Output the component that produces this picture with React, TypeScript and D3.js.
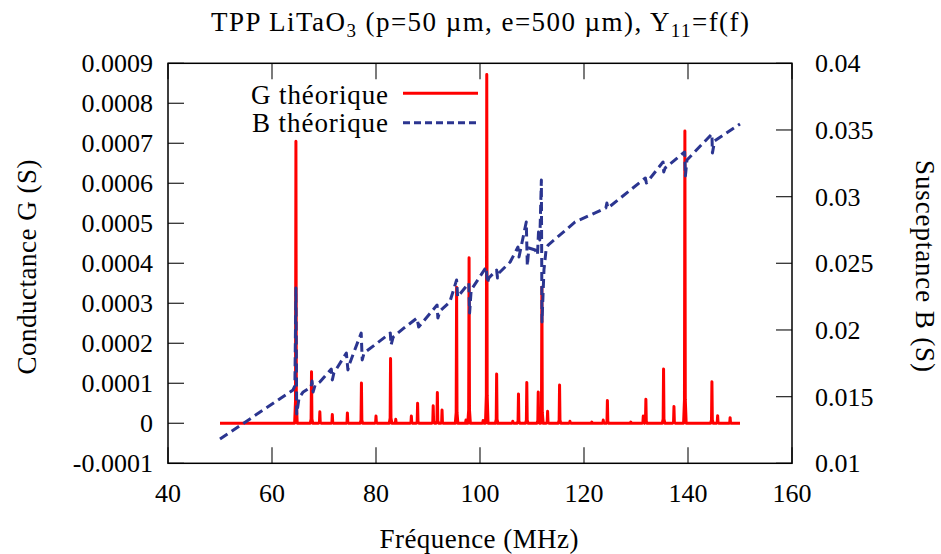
import React from "react";
import * as d3 from "d3";

// ---- data ----
const xTicks = [40, 60, 80, 100, 120, 140, 160];
const gTicks = [-0.0001, 0, 0.0001, 0.0002, 0.0003, 0.0004, 0.0005, 0.0006, 0.0007, 0.0008, 0.0009];
const gTickLabels = ["-0.0001", "0", "0.0001", "0.0002", "0.0003", "0.0004", "0.0005", "0.0006", "0.0007", "0.0008", "0.0009"];
const bTicks = [0.01, 0.015, 0.02, 0.025, 0.03, 0.035, 0.04];
const bTickLabels = ["0.01", "0.015", "0.02", "0.025", "0.03", "0.035", "0.04"];

// Conductance G: resonance peaks (MHz, S) on a zero baseline from 50 to 150 MHz
const gRange = [50, 150];
const gPeakFreq = [64.6, 67.6, 69.2, 71.6, 74.5, 77.2, 80.0, 82.8, 83.8, 86.8, 88.0, 91.0, 91.8, 92.7, 95.5, 97.3, 97.9, 100.6, 101.3, 103.2, 106.3, 107.4, 109.0, 111.2, 111.9, 113.0, 115.3, 117.3, 121.5, 123.7, 124.5, 129.0, 131.4, 131.9, 135.3, 137.3, 139.4, 144.6, 145.7, 148.1];
const gPeakValue = [0.000705, 0.000129, 0.000029, 0.000022, 0.000026, 0.000101, 0.000018, 0.000162, 0.00001, 0.000018, 0.00005, 0.000044, 0.000077, 0.000033, 0.00034, 0.000008, 0.000414, 0.000007, 0.000872, 0.000123, 0.000005, 0.000073, 0.000102, 0.000078, 0.00034, 0.00003, 0.000096, 0.000005, 0.000003, 0.000008, 0.000057, 0.000003, 0.000018, 0.00006, 0.000136, 0.000042, 0.000731, 0.000104, 0.000019, 0.000014];

// Susceptance B (MHz, S)
const bFreq = [50, 64.04, 64.4, 64.6, 64.75, 65.2, 66.0, 67.5, 67.7, 67.9, 68.3, 69.2, 71.4, 71.6, 71.9, 74.3, 74.6, 74.9, 77.15, 77.35, 77.7, 80.0, 82.75, 82.9, 83.3, 85.4, 87.9, 88.2, 91.75, 91.9, 92.3, 94.2, 95.5, 95.7, 96.0, 97.85, 98.0, 98.3, 101.2, 101.4, 101.7, 103.2, 103.37, 103.65, 105.8, 107.3, 107.5, 108.9, 109.1, 109.4, 110.6, 111.06, 111.25, 111.5, 111.8, 111.92, 112.3, 112.7, 113.1, 118.3, 124.2, 124.4, 124.6, 131.8, 132.0, 135.2, 135.33, 135.6, 139.35, 139.5, 139.8, 144.6, 144.7, 145.1, 150];
const bValue = [0.01182, 0.0155, 0.0158, 0.02315, 0.0137, 0.0149, 0.01535, 0.01572, 0.01617, 0.01535, 0.01587, 0.0161, 0.01707, 0.01625, 0.01677, 0.01827, 0.017, 0.01745, 0.01977, 0.01775, 0.01827, 0.01895, 0.01977, 0.01887, 0.01947, 0.02015, 0.0209, 0.02022, 0.02187, 0.0209, 0.02142, 0.0221, 0.02375, 0.02247, 0.02262, 0.02352, 0.02127, 0.023, 0.02472, 0.02352, 0.0239, 0.0245, 0.0239, 0.02427, 0.0251, 0.02622, 0.02547, 0.0281, 0.0248, 0.02615, 0.026, 0.02562, 0.02735, 0.02675, 0.03125, 0.0206, 0.0245, 0.026, 0.02637, 0.0281, 0.02915, 0.02952, 0.02915, 0.0314, 0.03102, 0.0326, 0.03185, 0.03215, 0.03335, 0.03155, 0.03275, 0.0347, 0.03327, 0.03417, 0.03545];

const W = 941;
const H = 554;
const L = 168, R = 792, T = 63.3, B = 463.3;
const FONT = "Liberation Serif, Times New Roman, serif";
const RED = "#ff0000";
const BLUE = "#2b3590";
const txt = { fontFamily: FONT };

export default function App() {
  const x = d3.scaleLinear().domain([40, 160]).range([L, R]);
  const yG = d3.scaleLinear().domain([-0.0001, 0.0009]).range([B, T]);
  const yB = d3.scaleLinear().domain([0.01, 0.04]).range([B, T]);

  // build the G path: each peak is a narrow spike on the zero baseline
  const gPts: [number, number][] = [[gRange[0], 0]];
  gPeakFreq.forEach((f, i) => {
    const h = gPeakValue[i];
    gPts.push([f - 0.25, 0], [f - 0.08, h * 0.08], [f, h], [f + 0.08, h * 0.08], [f + 0.25, 0]);
  });
  gPts.push([gRange[1], 0]);
  const gLine = d3.line<[number, number]>().x((d) => x(d[0])).y((d) => yG(d[1]));

  const bPts: [number, number][] = bFreq.map((f, i) => [f, bValue[i]]);
  const bLine = d3.line<[number, number]>().x((d) => x(d[0])).y((d) => yB(d[1]));

  const tickLen = 16;
  const tickColor = "#333";

  return (
    <svg width={W} height={H} style={{ position: "absolute", left: 0, top: 0, background: "#fff" }}>
      <rect x={0} y={0} width={W} height={H} fill="#fff" />
      {/* title */}
      <text x={480} y={31} textAnchor="middle" fontSize={27} fill="#000" style={txt} textLength={538}>
        TPP LiTaO<tspan fontSize={19} dy={6}>3</tspan>
        <tspan dy={-6}> (p=50 µm, e=500 µm), Y</tspan>
        <tspan fontSize={19} dy={6}>11</tspan>
        <tspan dy={-6}>=f(f)</tspan>
      </text>

      {/* ticks */}
      {xTicks.map((t) => (
        <g key={"xt" + t}>
          <line x1={x(t)} x2={x(t)} y1={B} y2={B - tickLen} stroke={tickColor} strokeWidth={1.3} />
          <line x1={x(t)} x2={x(t)} y1={T} y2={T + tickLen} stroke={tickColor} strokeWidth={1.3} />
          <text x={x(t)} y={502} textAnchor="middle" fontSize={26} fill="#000" style={txt}>{t}</text>
        </g>
      ))}
      {gTicks.map((t, i) => (
        <g key={"gt" + i}>
          <line x1={L} x2={L + tickLen} y1={yG(t)} y2={yG(t)} stroke={tickColor} strokeWidth={1.3} />
          <text x={153} y={yG(t) + 9} textAnchor="end" fontSize={26} fill="#000" style={txt}>{gTickLabels[i]}</text>
        </g>
      ))}
      {bTicks.map((t, i) => (
        <g key={"bt" + i}>
          <line x1={R} x2={R - tickLen} y1={yB(t)} y2={yB(t)} stroke={tickColor} strokeWidth={1.3} />
          <text x={815} y={yB(t) + 9} textAnchor="start" fontSize={26} fill="#000" style={txt}>{bTickLabels[i]}</text>
        </g>
      ))}

      {/* axis titles */}
      <text x={479} y={548} textAnchor="middle" fontSize={27} fill="#000" style={txt} textLength={199}>Fréquence (MHz)</text>
      <text transform={`translate(36,267) rotate(-90)`} textAnchor="middle" fontSize={27} fill="#000" style={txt} textLength={215}>Conductance G (S)</text>
      <text transform={`translate(916,266) rotate(90)`} textAnchor="middle" fontSize={27} fill="#000" style={txt} textLength={212}>
        Susceptance B (S)
      </text>

      {/* data */}
      <path d={gLine(gPts) || ""} fill="none" stroke={RED} strokeWidth={3} strokeLinejoin="round" />
      <path d={bLine(bPts) || ""} fill="none" stroke={BLUE} strokeWidth={3} strokeDasharray="9,5" strokeLinejoin="round" />

      {/* legend */}
      <text x={388} y={104} textAnchor="end" fontSize={27} fill="#000" style={txt} textLength={137}>G théorique</text>
      <line x1={403} x2={478} y1={93.3} y2={93.3} stroke={RED} strokeWidth={3} />
      <text x={388} y={132} textAnchor="end" fontSize={27} fill="#000" style={txt} textLength={136}>B théorique</text>
      <line x1={403} x2={478} y1={122.7} y2={122.7} stroke={BLUE} strokeWidth={3} strokeDasharray="7,4" />

      {/* frame */}
      <rect x={L} y={T} width={R - L} height={B - T} fill="none" stroke="#000" strokeWidth={1.5} />
    </svg>
  );
}
